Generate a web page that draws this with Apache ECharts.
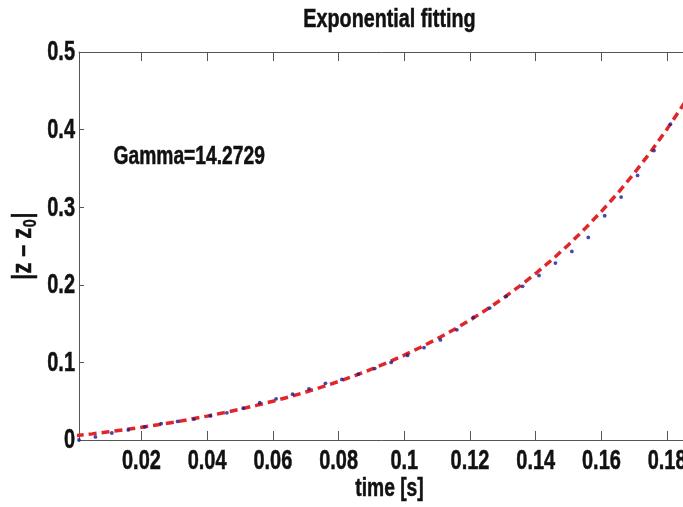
<!DOCTYPE html>
<html>
<head>
<meta charset="utf-8">
<script src="https://cdn.jsdelivr.net/npm/echarts@6/dist/echarts.min.js"></script>
<style>
  html, body { margin: 0; padding: 0; background: #ffffff; }
  #chart { width: 683px; height: 507px; }
</style>
</head>
<body>
<div id="chart"></div>
<script>
// Measured |z - z0| samples (time in seconds)
const sampleTimes = [
  0.001, 0.006, 0.011, 0.016, 0.021, 0.026, 0.031, 0.036, 0.041, 0.046,
  0.051, 0.056, 0.061, 0.066, 0.071, 0.076, 0.081, 0.086, 0.091, 0.096,
  0.101, 0.106, 0.111, 0.116, 0.121, 0.126, 0.131, 0.136, 0.141, 0.146,
  0.151, 0.156, 0.161, 0.166, 0.171, 0.176, 0.181, 0.186
];
const sampleValues = [
  0.000, 0.004, 0.009, 0.013, 0.017, 0.021, 0.024, 0.027, 0.031, 0.035,
  0.041, 0.048, 0.053, 0.059, 0.066, 0.073, 0.078, 0.085, 0.092, 0.100,
  0.109, 0.119, 0.129, 0.142, 0.158, 0.170, 0.185, 0.198, 0.212, 0.228,
  0.243, 0.261, 0.289, 0.313, 0.341, 0.373, 0.407, 0.440
];

// Exponential fit curve
const fitTimes = [
  0.000, 0.005, 0.010, 0.015, 0.020, 0.025, 0.030, 0.035, 0.040, 0.045,
  0.050, 0.055, 0.060, 0.065, 0.070, 0.075, 0.080, 0.085, 0.090, 0.095,
  0.100, 0.105, 0.110, 0.115, 0.120, 0.125, 0.130, 0.135, 0.140, 0.145,
  0.150, 0.155, 0.160, 0.165, 0.170, 0.175, 0.180, 0.185, 0.190
];
const fitValues = [
  0.0055, 0.0079, 0.0105, 0.0133, 0.0163, 0.0196, 0.0230, 0.0268, 0.0308, 0.0351,
  0.0397, 0.0446, 0.0499, 0.0556, 0.0618, 0.0684, 0.0754, 0.0831, 0.0912, 0.1000,
  0.1094, 0.1195, 0.1304, 0.1420, 0.1545, 0.1680, 0.1825, 0.1980, 0.2146, 0.2325,
  0.2517, 0.2724, 0.2946, 0.3183, 0.3439, 0.3714, 0.4009, 0.4326, 0.4667
];

const xTickValues = [0.02, 0.04, 0.06, 0.08, 0.1, 0.12, 0.14, 0.16, 0.18];
const xTickLabels = ['0.02', '0.04', '0.06', '0.08', '0.1', '0.12', '0.14', '0.16', '0.18'];
const yTickValues = [0, 0.1, 0.2, 0.3, 0.4, 0.5];
const yTickLabels = ['0', '0.1', '0.2', '0.3', '0.4', '0.5'];
const titleText = 'Exponential fitting';
const xAxisTitle = 'time [s]';
const gammaText = 'Gamma=14.2729';

// Bold sans squeezed horizontally to get a condensed Helvetica look
const FONT = "'Liberation Sans', Arial, sans-serif";
const INK = '#111111';
const AXIS_COLOR = '#555555';

const chart = echarts.init(document.getElementById('chart'), null, { renderer: 'canvas' });

const xRange = { min: 0.001, max: 0.19 };

const tickStyle = { color: AXIS_COLOR, width: 1 };

chart.setOption({
  backgroundColor: '#ffffff',
  animation: false,
  grid: { left: 79, top: 52, width: 621, height: 388, containLabel: false, outerBoundsMode: 'none' },
  xAxis: [
    {
      type: 'value',
      position: 'bottom',
      min: xRange.min,
      max: xRange.max,
      axisLine: { show: true, onZero: false, lineStyle: tickStyle },
      axisTick: { show: true, inside: true, length: 9, customValues: xTickValues, lineStyle: tickStyle },
      axisLabel: { show: false },
      splitLine: { show: false }
    },
    {
      type: 'value',
      position: 'top',
      min: xRange.min,
      max: xRange.max,
      axisLine: { show: true, onZero: false, lineStyle: tickStyle },
      axisTick: { show: true, inside: true, length: 9, customValues: xTickValues, lineStyle: tickStyle },
      axisLabel: { show: false },
      splitLine: { show: false }
    }
  ],
  yAxis: {
    type: 'value',
    min: 0,
    max: 0.5,
    interval: 0.1,
    axisLine: { show: true, onZero: false, lineStyle: tickStyle },
    axisTick: { show: true, inside: true, length: 5, lineStyle: tickStyle },
    axisLabel: { show: false },
    splitLine: { show: false }
  },
  series: [
    {
      name: 'fit',
      type: 'line',
      xAxisIndex: 0,
      data: fitTimes.map((t, i) => [t, fitValues[i]]),
      showSymbol: false,
      clip: true,
      lineStyle: { color: '#e0262b', width: 3.5, type: [8, 5] },
      z: 2
    },
    {
      name: 'data',
      type: 'scatter',
      xAxisIndex: 0,
      data: sampleTimes.map((t, i) => [t, sampleValues[i]]),
      symbol: 'circle',
      symbolSize: 3.8,
      clip: true,
      itemStyle: { color: '#1a1a90' },
      z: 3
    }
  ]
});

// Text placed from the axis scales, drawn condensed
function label(text, x, y, size, squeeze, align, vAlign) {
  return {
    type: 'text',
    x: x,
    y: y,
    scaleX: squeeze,
    z: 10,
    style: {
      text: text,
      fontFamily: FONT,
      fontWeight: 'bold',
      fontSize: size,
      fill: INK,
      stroke: INK,
      lineWidth: 0.5,
      align: align,
      verticalAlign: vAlign
    }
  };
}

const gridLeft = chart.convertToPixel({ xAxisIndex: 0 }, xRange.min);
const gridRight = chart.convertToPixel({ xAxisIndex: 0 }, xRange.max);
const baseY = chart.convertToPixel({ yAxisIndex: 0 }, 0);
const midX = (gridLeft + gridRight) / 2;

const graphics = [];
xTickValues.forEach((v, i) => {
  graphics.push(label(xTickLabels[i], chart.convertToPixel({ xAxisIndex: 0 }, v), baseY + 22, 27, 0.74, 'center', 'middle'));
});
yTickValues.forEach((v, i) => {
  graphics.push(label(yTickLabels[i], gridLeft - 4, chart.convertToPixel({ yAxisIndex: 0 }, v) + 1, 27, 0.74, 'right', 'middle'));
});
graphics.push(label(titleText, midX, 20, 25, 0.79, 'center', 'middle'));
graphics.push(label(xAxisTitle, midX, baseY + 49, 25, 0.77, 'center', 'middle'));
graphics.push(label(gammaText, chart.convertToPixel({ xAxisIndex: 0 }, 0.0115), chart.convertToPixel({ yAxisIndex: 0 }, 0.365), 25, 0.77, 'left', 'middle'));

// Vertical axis title |z − z0| with subscript
graphics.push({
  type: 'text',
  x: 24,
  y: (chart.convertToPixel({ yAxisIndex: 0 }, 0.5) + baseY) / 2,
  rotation: Math.PI / 2,
  scaleX: 0.8,
  z: 10,
  style: {
    text: '{m||z – z}{s|0}{m||}',
    align: 'center',
    verticalAlign: 'middle',
    rich: {
      m: { fontFamily: FONT, fontWeight: 'bold', fontSize: 27, fill: INK, stroke: INK, lineWidth: 0.5, lineHeight: 30, verticalAlign: 'middle' },
      s: { fontFamily: FONT, fontWeight: 'bold', fontSize: 18, fill: INK, stroke: INK, lineWidth: 0.4, lineHeight: 30, padding: [15, 1, 0, 1], verticalAlign: 'middle' }
    }
  }
});

chart.setOption({ graphic: graphics });
</script>
</body>
</html>
